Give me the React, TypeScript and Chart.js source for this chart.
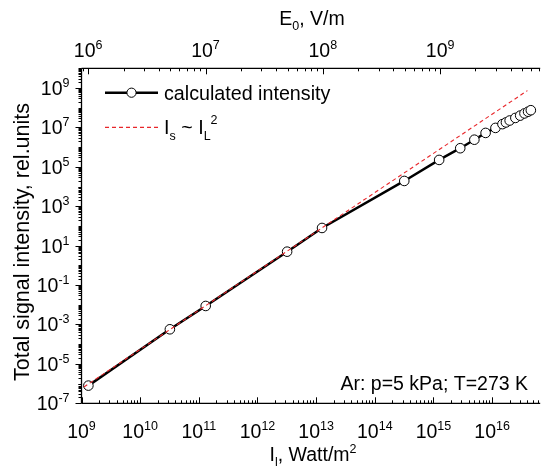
import React, { useEffect, useRef } from "react";
import { Chart, registerables } from "chart.js";

Chart.register(...registerables);

// ---- data ----
const laserIntensity = [
  1.31e9, 3.21e10, 1.31e11, 3.2e12, 1.26e13, 3.18e14, 1.25e15, 2.86e15,
  4.98e15, 7.74e15, 1.14e16, 1.5e16, 1.72e16, 1.99e16, 2.49e16, 3.01e16,
  3.56e16, 4.1e16, 4.57e16,
];
const signalIntensity = [
  7.9e-7, 5.7e-4, 8.7e-3, 4.95, 79, 1.92e4, 2.24e5, 8.8e5,
  2.38e6, 5.26e6, 9.44e6, 1.47e7, 1.79e7, 2.24e7, 3.03e7, 3.97e7,
  5.14e7, 6.27e7, 7.46e7,
];
const quadraticIL = [1.1e9, 4.0e16];
const quadraticIs = [6.7e-7, 7.4e8];

const xAxisMin = 1e9;
const xAxisMax = 6.6e16;
const yAxisMin = 1e-7;
const yAxisMax = 1e10;
const bottomTickExps = [9, 10, 11, 12, 13, 14, 15, 16];
const leftTickExps = [-7, -5, -3, -1, 1, 3, 5, 7, 9];
const topTickExps = [6, 7, 8, 9];
const fieldToIntensity = 1.3e-3; // I = c * E^2

const seriesLabel = "calculated intensity";
const annotationText = "Ar: p=5 kPa; T=273 K";
const yTitle = "Total signal intensity, rel.units";

const FONT = '"Liberation Sans", Arial, Helvetica, sans-serif';
const TICK = 19.5;
const SUP = 12.5;
const RED = "#e8262a";

type Part = { t: string; size: number; dy: number };

function drawRich(ctx: CanvasRenderingContext2D, parts: Part[], x: number, y: number, align: "left" | "center" | "right") {
  let total = 0;
  const widths: number[] = [];
  for (const p of parts) {
    ctx.font = `${p.size}px ${FONT}`;
    const w = ctx.measureText(p.t).width;
    widths.push(w);
    total += w;
  }
  let cx = align === "left" ? x : align === "center" ? x - total / 2 : x - total;
  ctx.textAlign = "left";
  ctx.textBaseline = "alphabetic";
  parts.forEach((p, i) => {
    ctx.font = `${p.size}px ${FONT}`;
    ctx.fillText(p.t, cx, y + p.dy);
    cx += widths[i];
  });
}

function pow10(exp: number): Part[] {
  return [
    { t: "10", size: TICK, dy: 0 },
    { t: String(exp), size: SUP, dy: -8 },
  ];
}

const framePlugin = {
  id: "frame",
  afterDraw(chart: any) {
    const ctx: CanvasRenderingContext2D = chart.ctx;
    const xs = chart.scales.x;
    const ys = chart.scales.y;
    const { left, right, top, bottom } = chart.chartArea;
    ctx.save();
    ctx.fillStyle = "#000";
    ctx.strokeStyle = "#000";

    // axis lines
    ctx.lineWidth = 1.3;
    ctx.beginPath();
    ctx.moveTo(left, top);
    ctx.lineTo(left, bottom);
    ctx.moveTo(left, bottom);
    ctx.lineTo(right, bottom);
    ctx.moveTo(left, top);
    ctx.lineTo(right, top);
    ctx.stroke();

    ctx.lineWidth = 1;
    // bottom ticks (inward)
    for (let n = 8; n <= 17; n++) {
      for (let k = 1; k <= 9; k++) {
        const v = k * Math.pow(10, n);
        if (v < xAxisMin || v > xAxisMax) continue;
        const px = Math.round(xs.getPixelForValue(v)) + 0.5;
        const len = k === 1 ? 6 : 3;
        ctx.beginPath();
        ctx.moveTo(px, bottom);
        ctx.lineTo(px, bottom - len);
        ctx.stroke();
      }
    }
    // top ticks (field axis, inward)
    for (let n = 5; n <= 10; n++) {
      for (let k = 1; k <= 9; k++) {
        const e = k * Math.pow(10, n);
        const v = fieldToIntensity * e * e;
        if (v < xAxisMin || v > xAxisMax) continue;
        const px = Math.round(xs.getPixelForValue(v)) + 0.5;
        const len = k === 1 ? 6 : 3;
        ctx.beginPath();
        ctx.moveTo(px, top);
        ctx.lineTo(px, top + len);
        ctx.stroke();
      }
    }
    // left ticks (outward)
    for (let n = -8; n <= 10; n++) {
      for (let k = 1; k <= 9; k++) {
        const v = k * Math.pow(10, n);
        if (v < yAxisMin || v > yAxisMax * 1.0001) continue;
        const py = Math.round(ys.getPixelForValue(v)) + 0.5;
        const len = k === 1 && leftTickExps.includes(n) ? 6 : 3;
        ctx.beginPath();
        ctx.moveTo(left, py);
        ctx.lineTo(left - len, py);
        ctx.stroke();
      }
    }

    // tick labels
    ctx.fillStyle = "#000";
    for (const n of bottomTickExps) {
      const px = xs.getPixelForValue(Math.pow(10, n));
      drawRich(ctx, pow10(n), px, bottom + 35, "center");
    }
    for (const n of topTickExps) {
      const e = Math.pow(10, n);
      const px = xs.getPixelForValue(fieldToIntensity * e * e);
      drawRich(ctx, pow10(n), px, top - 11, "center");
    }
    for (const n of leftTickExps) {
      const py = ys.getPixelForValue(Math.pow(10, n));
      drawRich(ctx, pow10(n), left - 12, py + 7, "right");
    }

    // axis titles
    drawRich(
      ctx,
      [
        { t: "I", size: TICK, dy: 0 },
        { t: "l", size: SUP, dy: 5 },
        { t: ", Watt/m", size: TICK, dy: 0 },
        { t: "2", size: SUP, dy: -8 },
      ],
      313,
      461,
      "center"
    );
    drawRich(
      ctx,
      [
        { t: "E", size: TICK, dy: 0 },
        { t: "0", size: SUP, dy: 5 },
        { t: ", V/m", size: TICK, dy: 0 },
      ],
      312,
      25,
      "center"
    );
    ctx.save();
    ctx.translate(28.5, 242);
    ctx.rotate(-Math.PI / 2);
    drawRich(ctx, [{ t: yTitle, size: 21.5, dy: 0 }], 0, 0, "center");
    ctx.restore();

    // legend
    ctx.strokeStyle = "#000";
    ctx.lineWidth = 2.5;
    ctx.beginPath();
    ctx.moveTo(105, 92.7);
    ctx.lineTo(158, 92.7);
    ctx.stroke();
    ctx.beginPath();
    ctx.arc(131.5, 92.7, 4.6, 0, Math.PI * 2);
    ctx.fillStyle = "#fff";
    ctx.fill();
    ctx.lineWidth = 1;
    ctx.stroke();
    ctx.fillStyle = "#000";
    drawRich(ctx, [{ t: seriesLabel, size: 19.7, dy: 0 }], 164, 99.5, "left");

    ctx.save();
    ctx.strokeStyle = RED;
    ctx.lineWidth = 1.3;
    ctx.setLineDash([4, 3]);
    ctx.beginPath();
    ctx.moveTo(105, 127.3);
    ctx.lineTo(158, 127.3);
    ctx.stroke();
    ctx.restore();
    ctx.fillStyle = "#000";
    drawRich(
      ctx,
      [
        { t: "I", size: 19.7, dy: 0 },
        { t: "s", size: SUP, dy: 6 },
        { t: " ~ I", size: 19.7, dy: 0 },
        { t: "L", size: SUP, dy: 6 },
        { t: "2", size: SUP, dy: -10 },
      ],
      164,
      133.5,
      "left"
    );

    // annotation
    drawRich(ctx, [{ t: annotationText, size: 19.5, dy: 0 }], 528, 390, "right");

    ctx.restore();
  },
};

export default function App() {
  const ref = useRef<HTMLCanvasElement | null>(null);
  useEffect(() => {
    document.body.style.margin = "0";
    const canvas = ref.current;
    if (!canvas) return;
    const chart = new Chart(canvas, {
      type: "line",
      data: {
        datasets: [
          {
            label: seriesLabel,
            data: laserIntensity.map((v, i) => ({ x: v, y: signalIntensity[i] })),
            borderColor: "#000",
            borderWidth: 2.5,
            pointRadius: 4.8,
            pointBorderWidth: 1,
            pointBackgroundColor: "#fff",
            pointBorderColor: "#000",
            tension: 0,
            order: 2,
          },
          {
            label: "Is ~ IL^2",
            data: quadraticIL.map((v, i) => ({ x: v, y: quadraticIs[i] })),
            borderColor: RED,
            borderWidth: 1.1,
            borderDash: [4, 3],
            pointRadius: 0,
            order: 1,
          },
        ],
      },
      options: {
        animation: false,
        responsive: true,
        maintainAspectRatio: false,
        layout: { padding: { left: 81.5, right: 0, top: 68.3, bottom: 63.7 } },
        plugins: { legend: { display: false }, tooltip: { enabled: false } },
        scales: {
          x: { type: "logarithmic", min: xAxisMin, max: xAxisMax, display: false },
          y: { type: "logarithmic", min: yAxisMin, max: yAxisMax, display: false },
        },
      },
      plugins: [framePlugin],
    });
    return () => chart.destroy();
  }, []);
  return (
    <div style={{ width: 546, height: 467, position: "relative", background: "#fff" }}>
      <canvas ref={ref} />
    </div>
  );
}
